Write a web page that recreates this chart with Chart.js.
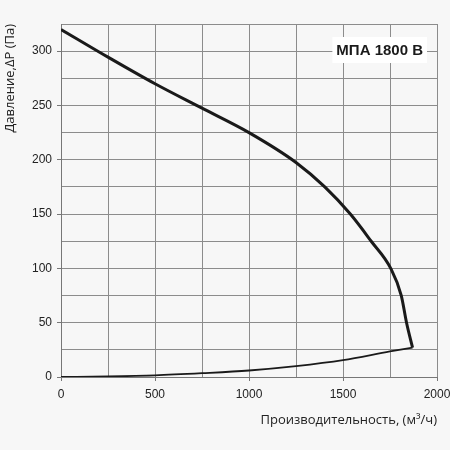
<!DOCTYPE html>
<html>
<head>
<meta charset="utf-8">
<script src="https://cdn.jsdelivr.net/npm/chart.js@4"></script>
<style>
    html, body { margin: 0; padding: 0; background: #f7f7f7; }
    #wrap { width: 450px; height: 450px; }
</style>
</head>
<body>
<div id="wrap"><canvas id="fan-chart" width="450" height="450"></canvas></div>
<script>
// Fan curve data
const flowUpper = [0, 250, 500, 750, 1000, 1250, 1403, 1539, 1650, 1754, 1810, 1838, 1870];
const pressureUpper = [320, 294.5, 270, 247.5, 225, 197.5, 175, 150, 125, 100, 75, 50, 27];

const flowLower = [0, 250, 500, 750, 1000, 1250, 1500, 1750, 1870];
const pressureLower = [0, 0.5, 1.5, 3.5, 6, 10, 15.5, 23.5, 27];

const xLabelTicks = [0, 500, 1000, 1500, 2000];
const yLabelTicks = [0, 50, 100, 150, 200, 250, 300];

const modelLabel = 'МПА 1800 В';
const xTitle = 'Производительность, (м³/ч)';
const yTitle = 'Давление,ΔP (Па)';

const toPoints = (xs, ys) => xs.map((x, i) => ({ x: x, y: ys[i] }));

// Paint the page background onto the canvas
const backgroundPlugin = {
    id: 'background',
    beforeDraw(chart) {
        const c = chart.ctx;
        c.save();
        c.fillStyle = '#f7f7f7';
        c.fillRect(0, 0, chart.width, chart.height);
        c.restore();
    }
};

// Model name in a white box in the top right of the plot
const modelLabelPlugin = {
    id: 'modelLabel',
    afterDatasetsDraw(chart) {
        const c = chart.ctx;
        const area = chart.chartArea;
        c.save();
        c.font = 'bold 15px "Liberation Sans", Arial, sans-serif';
        const w = c.measureText(modelLabel).width;
        const right = area.right - 14;
        const cy = area.top + 26;
        c.fillStyle = '#ffffff';
        c.fillRect(right - w - 4, cy - 13, w + 8, 26);
        c.fillStyle = '#1a1a1a';
        c.textAlign = 'right';
        c.textBaseline = 'middle';
        c.fillText(modelLabel, right, cy + 1);
        c.restore();
    }
};

new Chart(document.getElementById('fan-chart'), {
    type: 'scatter',
    data: {
        datasets: [
            {
                data: toPoints(flowUpper, pressureUpper),
                showLine: true,
                borderColor: '#1a1a1a',
                borderWidth: 3,
                pointRadius: 0,
                cubicInterpolationMode: 'monotone'
            },
            {
                data: toPoints(flowLower, pressureLower),
                showLine: true,
                borderColor: '#1a1a1a',
                borderWidth: 1.8,
                pointRadius: 0,
                cubicInterpolationMode: 'monotone'
            }
        ]
    },
    options: {
        responsive: false,
        animation: false,
        events: [],
        layout: { padding: { top: 24, right: 0, left: 0, bottom: 0 } },
        plugins: {
            legend: { display: false },
            tooltip: { enabled: false }
        },
        scales: {
            x: {
                type: 'linear',
                min: 0,
                max: 2000,
                afterFit(scale) {
                    scale.height = 73;
                    scale.paddingLeft = 0;
                    scale.paddingRight = 13;
                },
                ticks: {
                    stepSize: 250,
                    padding: 6,
                    maxRotation: 0,
                    color: '#222',
                    font: { family: '"Liberation Sans", Arial, sans-serif', size: 12 },
                    callback: v => xLabelTicks.includes(v) ? String(v) : ''
                },
                grid: {
                    color: '#8c8c8c',
                    lineWidth: 1,
                    tickLength: 4,
                    tickColor: ctx => xLabelTicks.includes(ctx.tick.value) ? '#777' : 'rgba(0,0,0,0)'
                },
                border: { color: '#777' },
                title: {
                    display: true,
                    text: xTitle,
                    align: 'end',
                    color: '#222',
                    font: { family: '"Open Sans", sans-serif', size: 13 },
                    padding: { top: 4, bottom: 22 }
                }
            },
            y: {
                type: 'linear',
                min: 0,
                max: 325,
                afterFit(scale) { scale.width = 61; },
                ticks: {
                    stepSize: 25,
                    padding: 5,
                    color: '#222',
                    font: { family: '"Liberation Sans", Arial, sans-serif', size: 12 },
                    callback: v => yLabelTicks.includes(v) ? String(v) : ''
                },
                grid: {
                    color: '#8c8c8c',
                    lineWidth: 1,
                    tickLength: 4,
                    tickColor: ctx => yLabelTicks.includes(ctx.tick.value) ? '#777' : 'rgba(0,0,0,0)'
                },
                border: { color: '#777' },
                title: {
                    display: true,
                    text: yTitle,
                    align: 'end',
                    color: '#222',
                    font: { family: '"Open Sans", sans-serif', size: 13 },
                    padding: { top: 2, bottom: 0 }
                }
            }
        }
    },
    plugins: [backgroundPlugin, modelLabelPlugin]
});
</script>
</body>
</html>
